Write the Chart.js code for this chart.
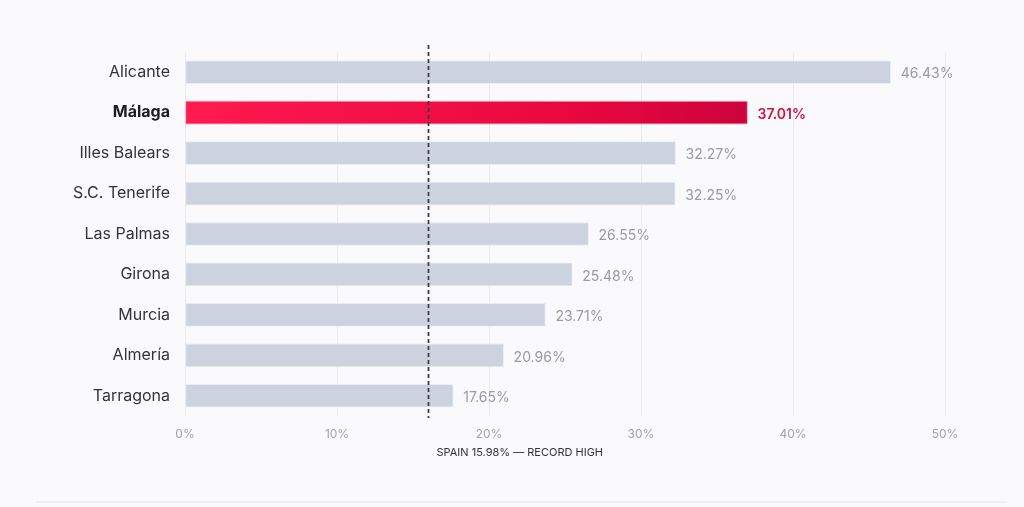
<!DOCTYPE html>
<html>
<head>
<meta charset="utf-8">
<script src="https://cdn.jsdelivr.net/npm/chart.js@4"></script>
<style>
  html, body { margin: 0; padding: 0; background: #fafafc; }
  #wrap { width: 1024px; height: 507px; position: relative; }
</style>
</head>
<body>
<div id="wrap"><canvas id="chart"></canvas></div>
<script>
const provinces = ['Alicante', 'Málaga', 'Illes Balears', 'S.C. Tenerife', 'Las Palmas', 'Girona', 'Murcia', 'Almería', 'Tarragona'];
const shares = [46.43, 37.01, 32.27, 32.25, 26.55, 25.48, 23.71, 20.96, 17.65];
const highlight = 'Málaga';
const spainValue = 15.98;
const spainLabel = 'SPAIN 15.98% — RECORD HIGH';
const xTicks = [0, 10, 20, 30, 40, 50];

const FONT = 'Inter, "Noto Sans", sans-serif';

// Value labels at bar ends, reference line and its caption
const extras = {
    id: 'extras',
    afterDatasetsDraw(chart) {
        const { ctx, chartArea, scales } = chart;
        const meta = chart.getDatasetMeta(0);
        ctx.save();
        ctx.textBaseline = 'middle';
        ctx.textAlign = 'left';
        meta.data.forEach((bar, i) => {
            const hot = provinces[i] === highlight;
            ctx.font = (hot ? '600 ' : '400 ') + '14px ' + FONT;
            ctx.fillStyle = hot ? '#d4103f' : '#9b9b9f';
            ctx.fillText(shares[i].toFixed(2) + '%', bar.x + 10, bar.y + 2);
        });

        const x = Math.round(scales.x.getPixelForValue(spainValue)) + 0.5;
        ctx.strokeStyle = '#3e3e44';
        ctx.lineWidth = 1.8;
        ctx.setLineDash([4, 3]);
        ctx.beginPath();
        ctx.moveTo(x, chartArea.top - 7);
        ctx.lineTo(x, chartArea.bottom + 2);
        ctx.stroke();
        ctx.setLineDash([]);

        ctx.font = '400 11px ' + FONT;
        ctx.fillStyle = '#333338';
        ctx.fillText(spainLabel, x + 8, chartArea.bottom + 37);

        ctx.fillStyle = '#efeff5';
        ctx.fillRect(36, 501, 971, 2);
        ctx.restore();
    }
};

const ctx = document.getElementById('chart').getContext('2d');

new Chart(ctx, {
    type: 'bar',
    data: {
        labels: provinces,
        datasets: [{
            data: shares,
            barThickness: 23,
            borderWidth: 1,
            borderSkipped: false,
            borderColor: (c) => provinces[c.dataIndex] === highlight ? 'rgba(255,120,150,0.7)' : 'rgba(230,234,242,0.9)',
            backgroundColor: (c) => {
                if (provinces[c.dataIndex] !== highlight) return '#cdd3de';
                const { ctx: g, chartArea } = c.chart;
                if (!chartArea) return '#e8103f';
                const bar = c.chart.getDatasetMeta(0).data[c.dataIndex];
                const x1 = bar && bar.x ? bar.x : chartArea.right;
                const grad = g.createLinearGradient(chartArea.left, 95, x1, 135);
                grad.addColorStop(0, '#ff1a4f');
                grad.addColorStop(0.55, '#e6063f');
                grad.addColorStop(1, '#a8003a');
                return grad;
            }
        }]
    },
    options: {
        indexAxis: 'y',
        responsive: true,
        maintainAspectRatio: false,
        animation: false,
        layout: { padding: { left: 0, right: 79, top: 52, bottom: 61 } },
        plugins: {
            legend: { display: false },
            tooltip: { enabled: false }
        },
        scales: {
            x: {
                min: 0,
                max: 50,
                afterBuildTicks: (scale) => { scale.ticks = xTicks.map(v => ({ value: v })); },
                afterFit: (scale) => { scale.height = 30; },
                grid: { color: '#e9ebf1', drawTicks: false, lineWidth: 1 },
                border: { display: false },
                ticks: {
                    padding: 11,
                    color: '#a3a3a8',
                    font: { size: 12, family: FONT },
                    callback: (v) => v + '%'
                }
            },
            y: {
                afterFit: (scale) => { scale.width = 185; },
                grid: { display: false },
                border: { display: false },
                ticks: {
                    padding: 7,
                    color: (c) => provinces[c.index] === highlight ? '#1c1c20' : '#333338',
                    font: (c) => ({
                        size: 16,
                        family: FONT,
                        weight: provinces[c.index] === highlight ? '700' : '400'
                    })
                }
            }
        }
    },
    plugins: [extras]
});
</script>
</body>
</html>
